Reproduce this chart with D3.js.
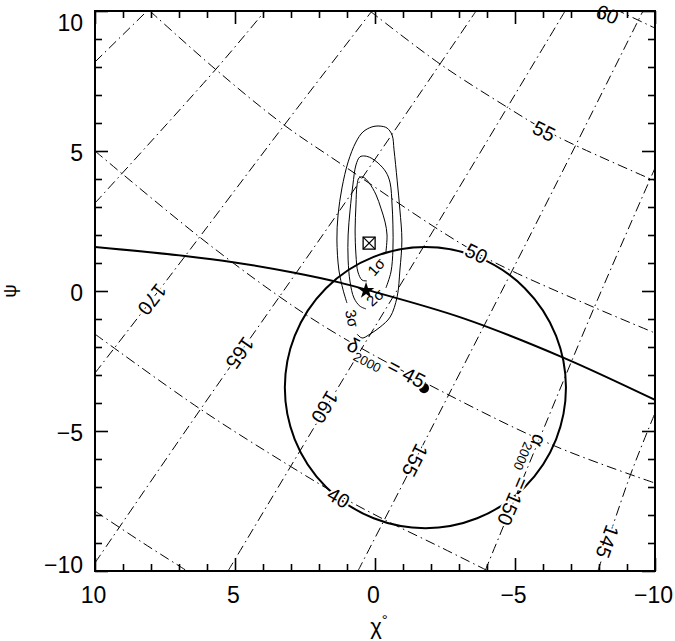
<!DOCTYPE html>
<html>
<head>
<meta charset="utf-8">
<script src="https://cdn.jsdelivr.net/npm/d3@7"></script>
<style>
  body { margin: 0; background: #fff; }
  text { font-family: "Liberation Sans", Arial, sans-serif; }
</style>
</head>
<body>
<svg id="chart" width="675" height="641"></svg>
<script>
// ---- data (chi, psi in degrees) ----
const raValues = [180, 175, 170, 165, 160, 155, 150, 145];
const raPaths = [
  [[10, 8.18], [8.14, 10]],
  [[10, 3.14], [5.71, 7.89], [3.93, 10]],
  [[10, -2.93], [7.32, 0.54], [3.29, 5.86], [0.11, 10]],
  [[10, -9.71], [6.25, -4.25], [1.25, 2.89], [-3.61, 10]],
  [[5.25, -10], [1.5, -3.75], [-2.07, 2.14], [-6.79, 10]],
  [[0.61, -10], [-2.61, -3.75], [-6.54, 3.96], [-9.57, 10]],
  [[-3.93, -10], [-5.96, -5.07], [-7.79, -0.68], [-10, 4.39]],
  [[-7.96, -10], [-9.11, -6.6], [-10, -4.36]]
];
const decValues = [35, 40, 45, 50, 55, 60];
const decPaths = [
  [[10, -7.86], [8.39, -8.93], [6.71, -10]],
  [[10, -1.54], [6.25, -4.21], [3.04, -6.25], [1.25, -7.32], [-0.36, -8.18], [-2.32, -9.14], [-4.04, -10]],
  [[10, 5.0], [6.36, 2.0], [3.5, -0.14], [1.36, -1.54], [-2.57, -3.68], [-6.43, -5.54], [-10, -6.86]],
  [[8.04, 10], [5.71, 7.93], [3.29, 5.96], [1.32, 4.61], [-2.07, 2.32], [-3.64, 1.36], [-4.82, 0.75], [-7.79, -0.57], [-10, -1.5]],
  [[0.18, 10], [-2.32, 8.11], [-4.71, 6.57], [-6.07, 5.75], [-7.14, 5.21], [-10, 3.93]],
  [[-7.32, 10.68], [-8.86, 9.93], [-10, 9.39]]
];

// labels of the coordinate grid: text, position, rotation
const raLabels = [
  { t: "170", p: [7.96, -0.3], r: 128 },
  { t: "165", p: [4.82, -2.21], r: 125 },
  { t: "160", p: [1.79, -4.15], r: 121 },
  { t: "155", p: [-1.43, -6.05], r: 117 },
  { t: "145", p: [-8.3, -8.95], r: 110 }
];
const decLabels = [
  { t: "40", p: [1.3, -7.38], r: 30 },
  { t: "50", p: [-3.62, 1.34], r: 26 },
  { t: "55", p: [-6.04, 5.71], r: 26 },
  { t: "60", p: [-8.3, 9.88], r: 22 }
];

// solid great-circle track
const trackX = [10, 6.79, 5.07, 2.93, 1.25, 0.32, -3.11, -6.68, -10];
const trackY = [1.57, 1.25, 1.03, 0.66, 0.30, 0.05, -0.96, -2.36, -3.89];

// error circle
const circleCenter = [-1.8, -3.45];
const circleRadius = 5.02;
const centerDot = [-1.75, -3.47];

// likelihood contours (open at the label gaps)
const contour3 = [[0.64, -1.54], [0.46, -1.68], [0.18, -1.54], [-0.18, -1.29], [-0.54, -0.93], [-0.79, -0.21], [-0.89, 0.75], [-0.96, 1.82], [-0.89, 2.89], [-0.79, 3.96], [-0.68, 5.04], [-0.61, 5.57], [-0.43, 5.82], [-0.18, 5.89], [0.11, 5.86], [0.43, 5.68], [0.68, 5.32], [0.96, 4.61], [1.18, 3.68], [1.32, 2.71], [1.36, 1.82], [1.29, 0.75], [1.14, 0.04], [1.0, -0.43]];
const contour2 = [[-0.39, 0.11], [-0.57, 0.68], [-0.64, 1.46], [-0.64, 2.36], [-0.61, 3.07], [-0.54, 3.86], [-0.39, 4.25], [-0.11, 4.57], [0.14, 4.75], [0.36, 4.82], [0.54, 4.79], [0.68, 4.5], [0.79, 3.79], [0.89, 2.89], [0.96, 2.0], [0.96, 1.11], [0.89, 0.32], [0.75, -0.25], [0.54, -0.54], [0.32, -0.64]];
const contour1 = [[-0.39, 1.39], [-0.43, 2.0], [-0.36, 2.46], [-0.21, 2.96], [-0.04, 3.43], [0.21, 3.86], [0.43, 4.07], [0.57, 4.04], [0.64, 3.79], [0.68, 3.07], [0.71, 2.18], [0.68, 1.29], [0.61, 0.68], [0.46, 0.39], [0.29, 0.36]];
const contourLabels = [
  { t: "1σ", p: [-0.04, 0.86], r: -48 },
  { t: "2σ", p: [0.0, -0.23], r: -42 },
  { t: "3σ", p: [0.82, -0.98], r: 78 }
];

const boxMarker = [0.21, 1.71];
const starMarker = [0.32, 0.01];

const majorTicks = [10, 5, 0, -5, -10];
const minorTicks = d3.range(-10, 11).filter(v => v % 5 !== 0);

// ---- drawing ----
const svg = d3.select('#chart');
const margin = { top: 11, right: 20, bottom: 70, left: 95 };
const width = 560, height = 560;

const x = d3.scaleLinear().domain([10, -10]).range([margin.left, margin.left + width]);
const y = d3.scaleLinear().domain([-10, 10]).range([margin.top + height, margin.top]);

svg.append('defs').append('clipPath').attr('id', 'plotClip')
  .append('rect')
  .attr('x', x(10)).attr('y', y(10))
  .attr('width', width).attr('height', height);

const line = d3.line()
  .x(d => x(d[0]))
  .y(d => y(d[1]))
  .curve(d3.curveCatmullRom.alpha(0.5));

const plot = svg.append('g').attr('clip-path', 'url(#plotClip)');

// dash-dot coordinate grid
plot.selectAll('.ra')
  .data(raPaths)
  .enter().append('path')
  .attr('class', 'ra')
  .attr('d', line)
  .attr('fill', 'none')
  .attr('stroke', '#000')
  .attr('stroke-width', 1)
  .attr('stroke-dasharray', '10,4,1.5,4');

plot.selectAll('.dec')
  .data(decPaths)
  .enter().append('path')
  .attr('class', 'dec')
  .attr('d', line)
  .attr('fill', 'none')
  .attr('stroke', '#000')
  .attr('stroke-width', 1)
  .attr('stroke-dasharray', '10,4,1.5,4');

// grid labels (white halo breaks the line under the label)
const labels = svg.append('g');
function gridLabel(sel) {
  sel.attr('transform', d => `translate(${x(d.p[0])},${y(d.p[1])}) rotate(${d.r})`)
    .attr('text-anchor', 'middle')
    .attr('dy', '0.35em')
    .attr('font-size', 20)
    .attr('fill', '#000')
    .attr('stroke', '#fff')
    .attr('stroke-width', 4)
    .attr('paint-order', 'stroke')
    .text(d => d.t);
}
labels.selectAll('.ralab').data(raLabels).enter().append('text').call(gridLabel);
labels.selectAll('.declab').data(decLabels).enter().append('text').call(gridLabel);

// labels with subscript 2000
function subLabel(g, sym, val, p, r) {
  const t = g.append('text')
    .attr('transform', `translate(${x(p[0])},${y(p[1])}) rotate(${r})`)
    .attr('text-anchor', 'middle')
    .attr('dy', '0.35em')
    .attr('font-size', 20)
    .attr('fill', '#000')
    .attr('stroke', '#fff')
    .attr('stroke-width', 4)
    .attr('paint-order', 'stroke');
  t.append('tspan').text(sym);
  t.append('tspan').attr('font-size', 13).attr('dy', 6).text('2000');
  t.append('tspan').attr('dy', -6).text(' = ' + val);
}
subLabel(labels, 'δ', decValues[2], [-0.4, -2.56], 28);
subLabel(labels, 'α', raValues[6], [-5.25, -6.75], 113);

// solid track
const track = trackX.map((v, i) => [v, trackY[i]]);
plot.append('path')
  .datum(track)
  .attr('d', line)
  .attr('fill', 'none')
  .attr('stroke', '#000')
  .attr('stroke-width', 2);

// error circle
plot.append('circle')
  .attr('cx', x(circleCenter[0]))
  .attr('cy', y(circleCenter[1]))
  .attr('r', x(0) - x(circleRadius))
  .attr('fill', 'none')
  .attr('stroke', '#000')
  .attr('stroke-width', 2);

plot.append('circle')
  .attr('cx', x(centerDot[0]))
  .attr('cy', y(centerDot[1]))
  .attr('r', 5)
  .attr('fill', '#000');

// contours
plot.selectAll('.contour')
  .data([contour1, contour2, contour3])
  .enter().append('path')
  .attr('class', 'contour')
  .attr('d', line)
  .attr('fill', 'none')
  .attr('stroke', '#000')
  .attr('stroke-width', 1);

svg.append('g').selectAll('text')
  .data(contourLabels)
  .enter().append('text')
  .attr('transform', d => `translate(${x(d.p[0])},${y(d.p[1])}) rotate(${d.r})`)
  .attr('text-anchor', 'middle')
  .attr('dy', '0.35em')
  .attr('font-size', 15)
  .text(d => d.t);

// markers
const bx = x(boxMarker[0]), by = y(boxMarker[1]), bs = 6;
const box = svg.append('g').attr('stroke', '#000').attr('stroke-width', 1.3).attr('fill', 'none');
box.append('rect').attr('x', bx - bs).attr('y', by - bs).attr('width', 2 * bs).attr('height', 2 * bs);
box.append('line').attr('x1', bx - bs).attr('y1', by - bs).attr('x2', bx + bs).attr('y2', by + bs);
box.append('line').attr('x1', bx - bs).attr('y1', by + bs).attr('x2', bx + bs).attr('y2', by - bs);

svg.append('path')
  .attr('d', d3.symbol(d3.symbolStar, 85)())
  .attr('transform', `translate(${x(starMarker[0])},${y(starMarker[1])})`)
  .attr('fill', '#000');

// ---- axes ----
const fmt = d => d < 0 ? '\u2212' + Math.abs(d) : String(d);

function styleAxis(g, w) {
  g.select('.domain').remove();
  g.selectAll('.tick line').attr('stroke-width', w);
}

// bottom
svg.append('g')
  .attr('transform', `translate(0,${y(-10)})`)
  .call(d3.axisBottom(x).tickValues(majorTicks).tickSize(-13).tickPadding(16).tickFormat(fmt))
  .call(g => styleAxis(g, 1.6))
  .call(g => g.selectAll('text').attr('font-size', 23).attr('font-family', '"Liberation Sans", Arial, sans-serif').attr('dx', -2));
svg.append('g')
  .attr('transform', `translate(0,${y(-10)})`)
  .call(d3.axisBottom(x).tickValues(minorTicks).tickSize(-7).tickFormat(''))
  .call(g => styleAxis(g, 1.6));

// top
svg.append('g')
  .attr('transform', `translate(0,${y(10)})`)
  .call(d3.axisTop(x).tickValues(majorTicks).tickSize(-13).tickFormat(''))
  .call(g => styleAxis(g, 1.6));
svg.append('g')
  .attr('transform', `translate(0,${y(10)})`)
  .call(d3.axisTop(x).tickValues(minorTicks).tickSize(-7).tickFormat(''))
  .call(g => styleAxis(g, 1.6));

// left
svg.append('g')
  .attr('transform', `translate(${x(10)},0)`)
  .call(d3.axisLeft(y).tickValues(majorTicks).tickSize(-13).tickPadding(12).tickFormat(fmt))
  .call(g => styleAxis(g, 1.6))
  .call(g => g.selectAll('text')
    .attr('font-size', 23)
    .attr('font-family', '"Liberation Sans", Arial, sans-serif')
    .attr('dy', d => d === 10 ? '0.85em' : d === -10 ? '0.05em' : '0.42em'));
svg.append('g')
  .attr('transform', `translate(${x(10)},0)`)
  .call(d3.axisLeft(y).tickValues(minorTicks).tickSize(-7).tickFormat(''))
  .call(g => styleAxis(g, 1.6));

// right
svg.append('g')
  .attr('transform', `translate(${x(-10)},0)`)
  .call(d3.axisRight(y).tickValues(majorTicks).tickSize(-13).tickFormat(''))
  .call(g => styleAxis(g, 1.6));
svg.append('g')
  .attr('transform', `translate(${x(-10)},0)`)
  .call(d3.axisRight(y).tickValues(minorTicks).tickSize(-7).tickFormat(''))
  .call(g => styleAxis(g, 1.6));

// frame
svg.append('rect')
  .attr('x', x(10)).attr('y', y(10))
  .attr('width', width).attr('height', height)
  .attr('fill', 'none')
  .attr('stroke', '#000')
  .attr('stroke-width', 2);

// axis titles
svg.append('text')
  .attr('transform', `translate(16,${y(0)}) rotate(-90)`)
  .attr('text-anchor', 'middle')
  .attr('font-size', 19)
  .text('ψ');

const xt = svg.append('text')
  .attr('x', x(0) + 4)
  .attr('y', 634)
  .attr('text-anchor', 'middle')
  .attr('font-size', 22);
xt.append('tspan').text('χ');
xt.append('tspan').attr('font-size', 15).attr('dy', -9).text('°');
</script>
</body>
</html>
